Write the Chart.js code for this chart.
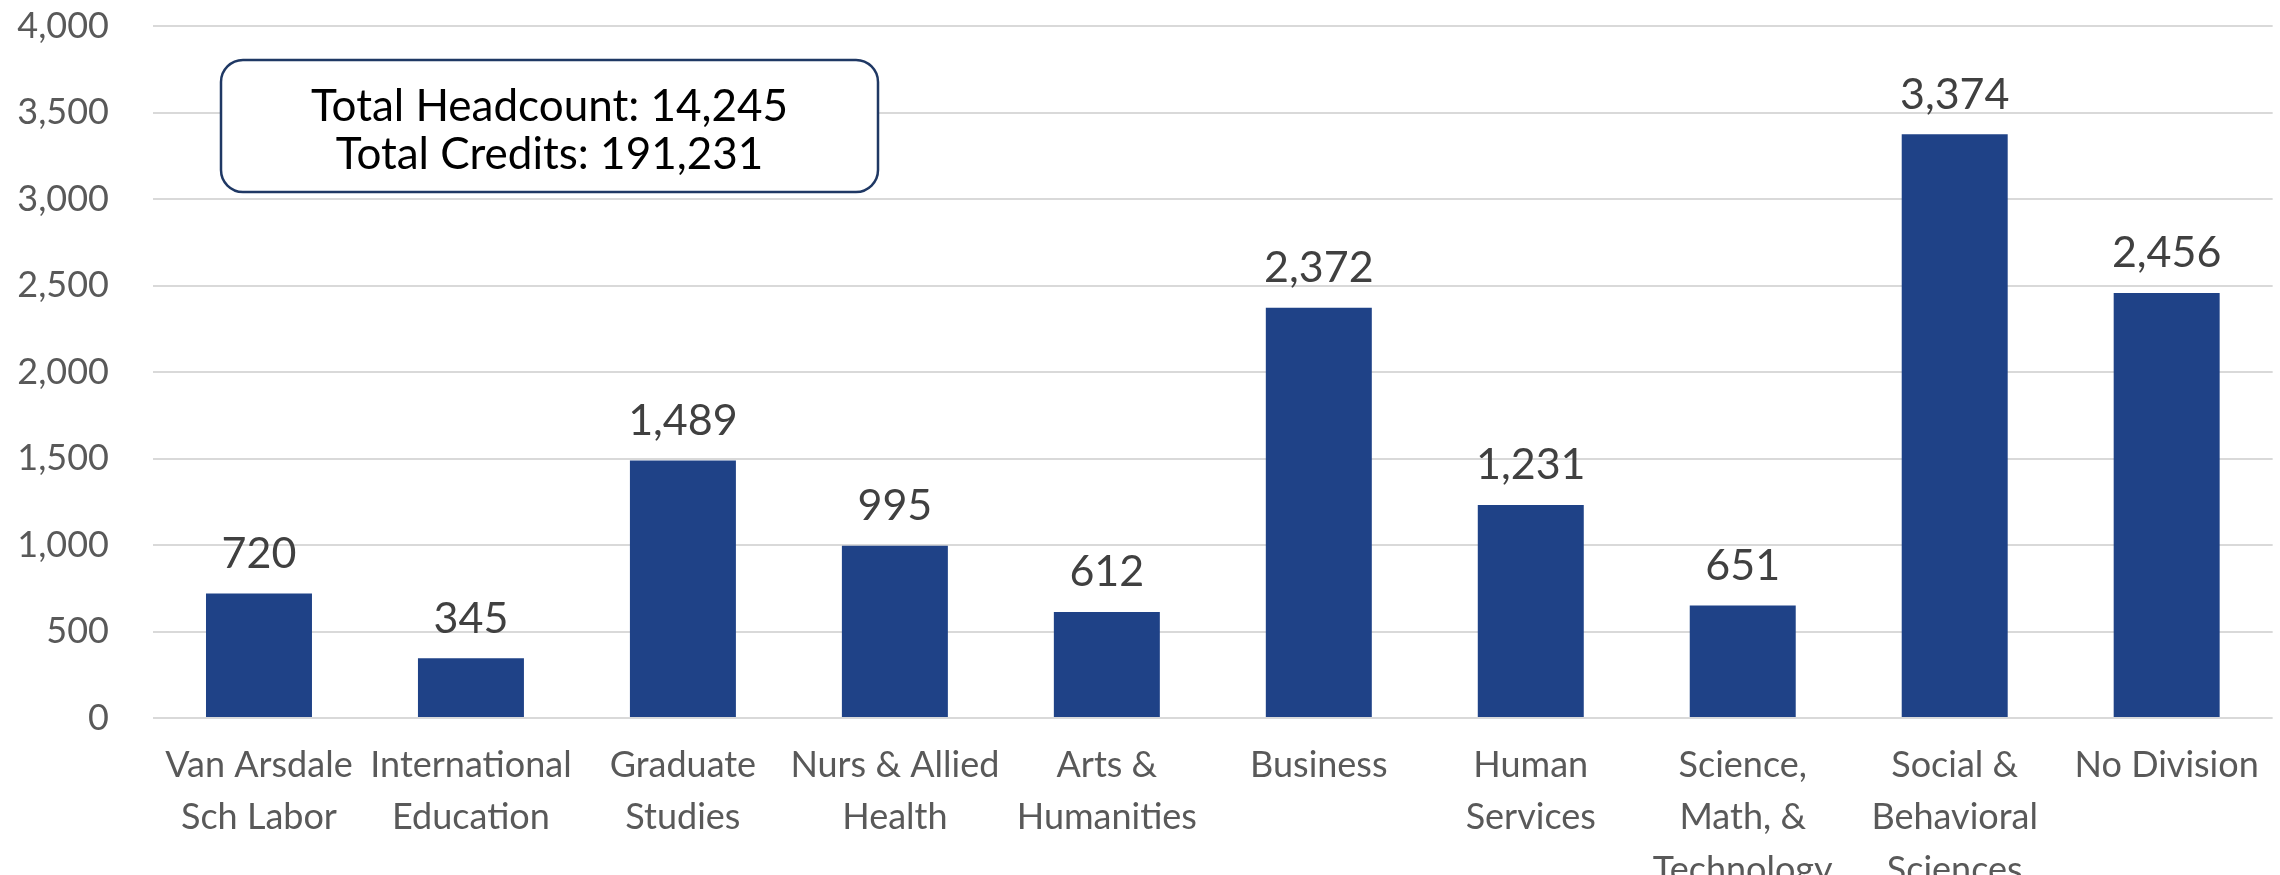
<!DOCTYPE html>
<html>
<head>
<meta charset="utf-8">
<script src="https://cdn.jsdelivr.net/npm/chart.js@4.4.0/dist/chart.umd.min.js"></script>
<style>
  html, body { margin: 0; padding: 0; background: #fff; }
  canvas { display: block; }
</style>
</head>
<body>
<canvas id="divisions" width="2280" height="875"></canvas>
<script>
// headcount by division
const divisions = [
  ['Van Arsdale', 'Sch Labor'],
  ['International', 'Education'],
  ['Graduate', 'Studies'],
  ['Nurs & Allied', 'Health'],
  ['Arts &', 'Humanities'],
  'Business',
  ['Human', 'Services'],
  ['Science,', 'Math, &', 'Technology'],
  ['Social &', 'Behavioral', 'Sciences'],
  'No Division'
];
const headcount = [720, 345, 1489, 995, 612, 2372, 1231, 651, 3374, 2456];
const totalsText = ['Total Headcount: 14,245', 'Total Credits: 191,231'];

const FONT = 'Lato, "Open Sans", sans-serif';
const fmt = n => n.toLocaleString('en-US');

// value labels above each bar
const barLabels = {
  id: 'barLabels',
  afterDatasetsDraw(chart) {
    const ctx = chart.ctx;
    const meta = chart.getDatasetMeta(0);
    ctx.save();
    ctx.font = '43px ' + FONT;
    ctx.fillStyle = '#404040';
    ctx.textAlign = 'center';
    ctx.textBaseline = 'bottom';
    meta.data.forEach((bar, i) => {
      ctx.fillText(fmt(headcount[i]), bar.x, bar.y - 18);
    });
    ctx.restore();
  }
};

// rounded box with the totals
const totalsBox = {
  id: 'totalsBox',
  afterDraw(chart) {
    const ctx = chart.ctx;
    const a = chart.chartArea;
    const x = a.left + 68, y = a.top + 34, w = 657, h = 132, r = 22;
    ctx.save();
    ctx.beginPath();
    ctx.roundRect(x, y, w, h, r);
    ctx.fillStyle = '#fff';
    ctx.fill();
    ctx.lineWidth = 2.5;
    ctx.strokeStyle = '#1f3864';
    ctx.stroke();
    ctx.font = '44px ' + FONT;
    ctx.fillStyle = '#000';
    ctx.textAlign = 'center';
    ctx.textBaseline = 'middle';
    ctx.fillText(totalsText[0], x + w / 2, y + 47);
    ctx.fillText(totalsText[1], x + w / 2, y + 95);
    ctx.restore();
  }
};

new Chart(document.getElementById('divisions'), {
  type: 'bar',
  data: {
    labels: divisions,
    datasets: [{
      data: headcount,
      backgroundColor: '#1f4287',
      categoryPercentage: 1.0,
      barPercentage: 0.5
    }]
  },
  options: {
    responsive: false,
    animation: false,
    layout: { padding: { top: 26, right: 5, left: 0, bottom: 0 } },
    plugins: {
      legend: { display: false },
      tooltip: { enabled: false }
    },
    scales: {
      x: {
        grid: { display: false, drawTicks: false },
        border: { display: false },
        ticks: {
          color: '#595959',
          font: { family: FONT, size: 36, lineHeight: 1.46 },
          padding: 21,
          maxRotation: 0,
          autoSkip: false
        },
        afterFit: s => { s.height = 157; }
      },
      y: {
        min: 0,
        max: 4000,
        grid: { color: '#d9d9d9', lineWidth: 2, drawTicks: false },
        border: { display: false },
        ticks: {
          stepSize: 500,
          color: '#595959',
          font: { family: FONT, size: 36 },
          padding: 44,
          callback: v => fmt(v)
        },
        afterFit: s => {
          s.width = 153;
          s.paddingTop = 0;
          s.paddingBottom = 0;
        }
      }
    }
  },
  plugins: [barLabels, totalsBox]
});
</script>
</body>
</html>
